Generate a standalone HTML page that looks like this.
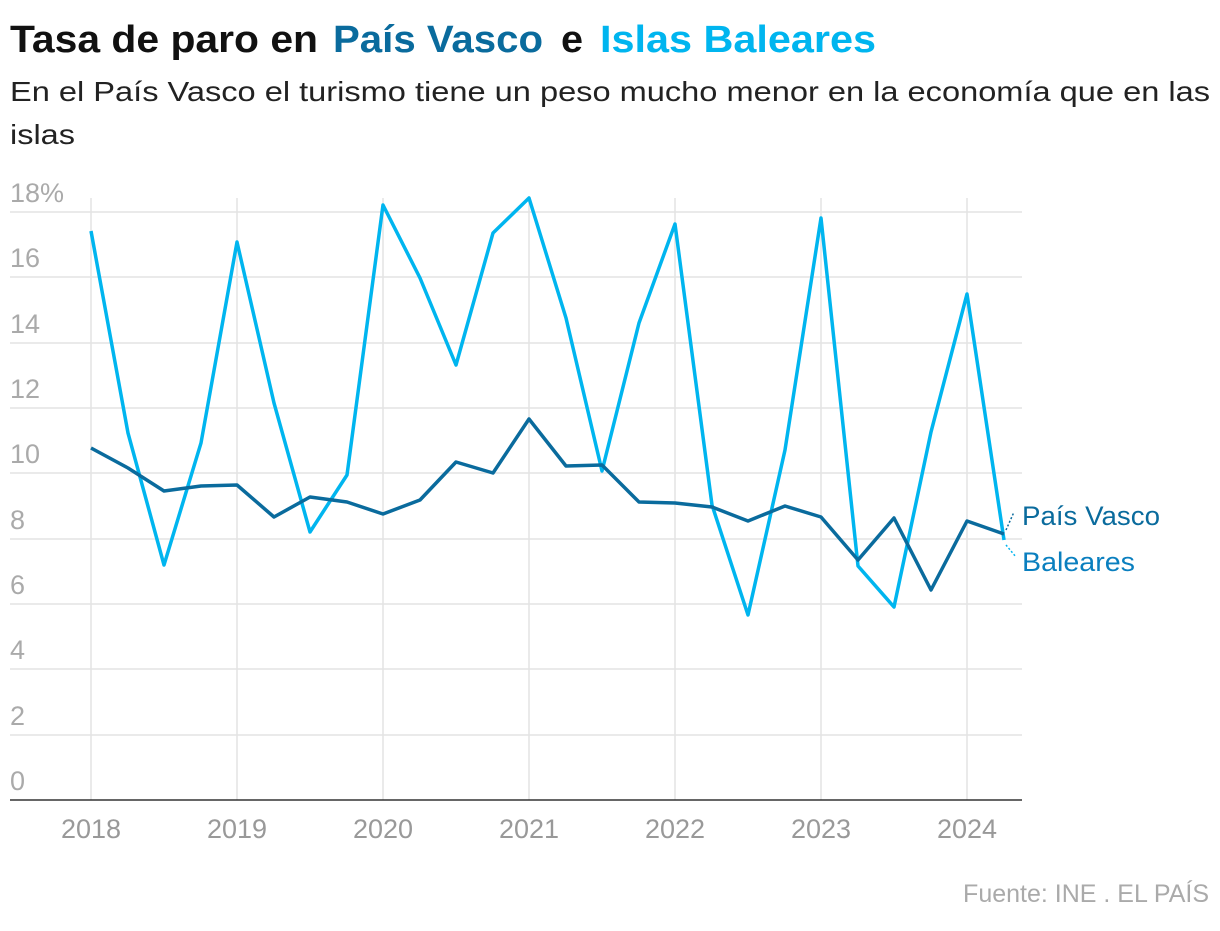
<!DOCTYPE html>
<html><head><meta charset="utf-8"><style>
body{margin:0;background:#fff;width:1220px;height:926px;overflow:hidden;font-family:"Liberation Sans",sans-serif}
</style></head><body>
<svg width="1220" height="926" xmlns="http://www.w3.org/2000/svg" font-family="Liberation Sans, sans-serif">
<g font-size="38" font-weight="bold">
<text x="10" y="52" fill="#111" textLength="308" lengthAdjust="spacingAndGlyphs">Tasa de paro en</text>
<text x="333" y="52" fill="#0a6b9d" textLength="210" lengthAdjust="spacingAndGlyphs">País Vasco</text>
<text x="561" y="52" fill="#111" textLength="22" lengthAdjust="spacingAndGlyphs">e</text>
<text x="600" y="52" fill="#00b5ef" textLength="276" lengthAdjust="spacingAndGlyphs">Islas Baleares</text>
</g>
<text x="10" y="101" font-size="28" fill="#222" textLength="1200" lengthAdjust="spacingAndGlyphs">En el País Vasco el turismo tiene un peso mucho menor en la economía que en las</text>
<text x="10" y="144" font-size="28" fill="#222" textLength="65" lengthAdjust="spacingAndGlyphs">islas</text>
<g stroke="#e3e3e3" stroke-width="1.5">
<line x1="10" x2="1022" y1="212" y2="212"/><line x1="10" x2="1022" y1="277" y2="277"/><line x1="10" x2="1022" y1="343" y2="343"/><line x1="10" x2="1022" y1="408" y2="408"/><line x1="10" x2="1022" y1="473" y2="473"/><line x1="10" x2="1022" y1="539" y2="539"/><line x1="10" x2="1022" y1="604" y2="604"/><line x1="10" x2="1022" y1="669" y2="669"/><line x1="10" x2="1022" y1="735" y2="735"/>
<line x1="91" x2="91" y1="198" y2="800"/><line x1="237" x2="237" y1="198" y2="800"/><line x1="383" x2="383" y1="198" y2="800"/><line x1="529" x2="529" y1="198" y2="800"/><line x1="675" x2="675" y1="198" y2="800"/><line x1="821" x2="821" y1="198" y2="800"/><line x1="967" x2="967" y1="198" y2="800"/>
</g>
<line x1="10" x2="1022" y1="800" y2="800" stroke="#333" stroke-width="1.5"/>
<g font-size="27" fill="#aaa">
<text x="10" y="202">18%</text><text x="10" y="267">16</text><text x="10" y="333">14</text><text x="10" y="398">12</text><text x="10" y="463">10</text><text x="10" y="529">8</text><text x="10" y="594">6</text><text x="10" y="659">4</text><text x="10" y="725">2</text><text x="10" y="790">0</text>
</g>
<g font-size="27" fill="#999" text-anchor="middle">
<text x="91" y="838">2018</text><text x="237" y="838">2019</text><text x="383" y="838">2020</text><text x="529" y="838">2021</text><text x="675" y="838">2022</text><text x="821" y="838">2023</text><text x="967" y="838">2024</text>
</g>
<polyline fill="none" stroke="#00b5ef" stroke-width="3.5" stroke-linejoin="round" points="91,231 128,433 164,565 201,443 237,242 274,403 310,532 347,475 383,205 420,278 456,365 493,233 529,198 566,318 602,471 639,323 675,224 712,505 748,615 785,450 821,218 858,566 894,607 931,432 967,294 1004,540"/>
<polyline fill="none" stroke="#0a6b9d" stroke-width="3.5" stroke-linejoin="round" points="91,448 128,468 164,491 201,486 237,485 274,517 310,497 347,502 383,514 420,500 456,462 493,473 529,419 566,466 602,465 639,502 675,503 712,507 748,521 785,506 821,517 858,560 894,518 931,590 967,521 1004,534"/>
<line x1="1006" y1="530" x2="1014" y2="512" stroke="#0a6b9d" stroke-width="1.5" stroke-dasharray="2,2"/>
<line x1="1006" y1="545" x2="1016" y2="557" stroke="#00b5ef" stroke-width="1.5" stroke-dasharray="2,2"/>
<text x="1022" y="525" font-size="27" fill="#0a6b9d" textLength="138" lengthAdjust="spacingAndGlyphs">País Vasco</text>
<text x="1022" y="571" font-size="27" fill="#0a7fbf" textLength="113" lengthAdjust="spacingAndGlyphs">Baleares</text>
<text x="1209" y="902" font-size="25" fill="#aaa" text-anchor="end">Fuente: INE . EL PAÍS</text>
</svg>
</body></html>
